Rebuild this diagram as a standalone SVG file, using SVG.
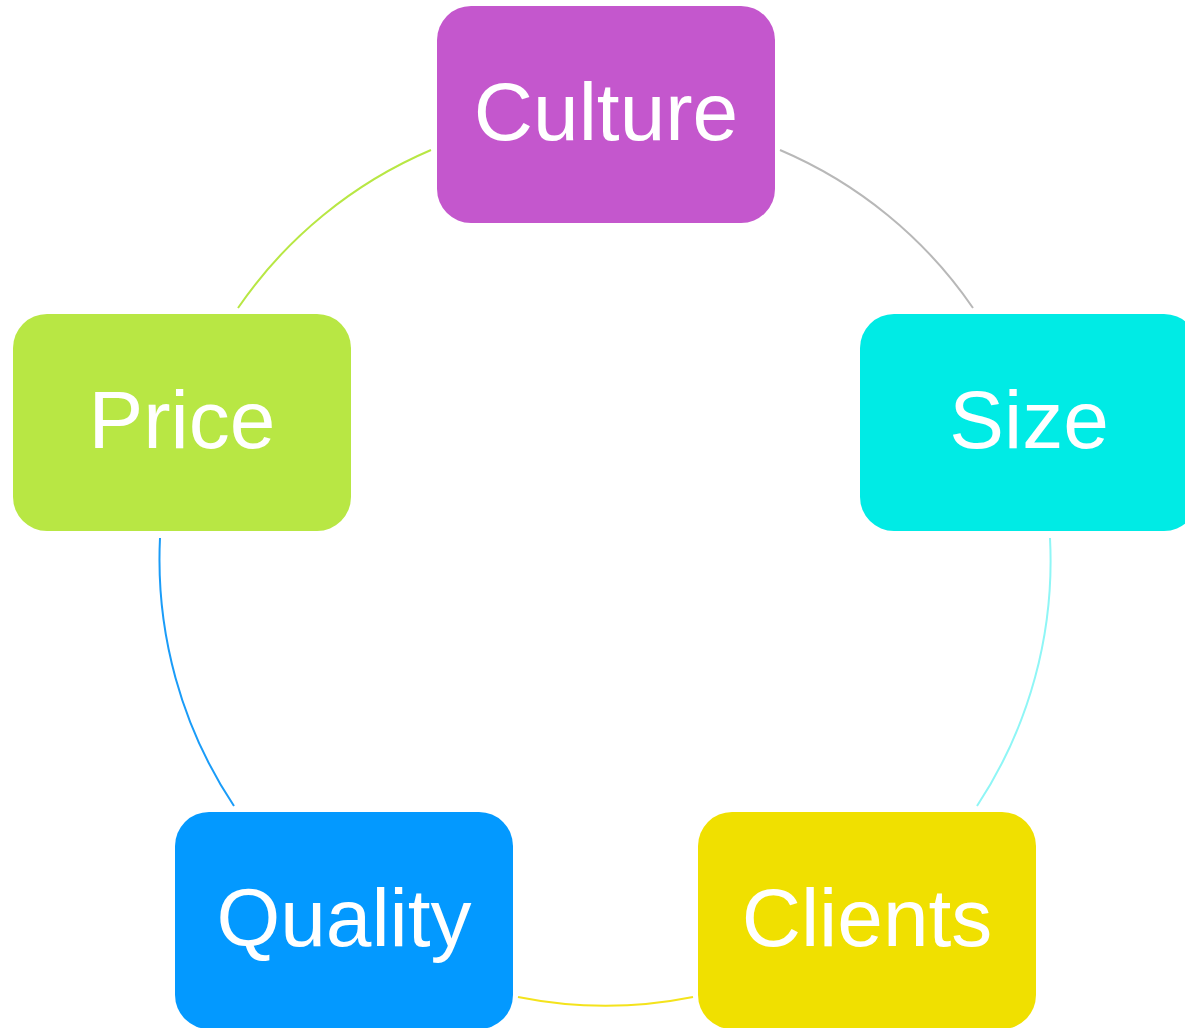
<svg xmlns="http://www.w3.org/2000/svg" width="1185" height="1028" viewBox="0 0 1185 1028">
  <style>
    .box { stroke: none; }
    .label { font-family: "Liberation Sans", Arial, sans-serif; font-size: 82px; fill: #ffffff; text-anchor: middle; }
    .arc { fill: none; stroke-width: 2; }
  </style>
  <rect width="1185" height="1028" fill="#ffffff"/>

  <!-- arcs along a circle centred at (606,560), r = 445 -->
  <g id="connectors">
    <path class="arc" stroke="#b8b8b8" d="M780,150 A445,445 0 0 1 973,308"/>
    <path class="arc" stroke="#8ff6f6" d="M1050,538 A445,445 0 0 1 977,806"/>
    <path class="arc" stroke="#f4e31c" d="M693,997 A445,445 0 0 1 518,997"/>
    <path class="arc" stroke="#1a9cf8" d="M234,806 A445,445 0 0 1 160,538"/>
    <path class="arc" stroke="#b8e744" d="M238,308 A445,445 0 0 1 431,150"/>
  </g>

  <g id="culture">
    <rect class="box" x="437" y="6" width="338" height="217" rx="34" fill="#c457cd"/>
    <text class="label" x="606" y="140">Culture</text>
  </g>
  <g id="size">
    <rect class="box" x="860" y="314" width="338" height="217" rx="34" fill="#00ebe5"/>
    <text class="label" x="1029" y="448">Size</text>
  </g>
  <g id="clients">
    <rect class="box" x="698" y="812" width="338" height="217" rx="34" fill="#f0e000"/>
    <text class="label" x="867" y="946">Clients</text>
  </g>
  <g id="quality">
    <rect class="box" x="175" y="812" width="338" height="217" rx="34" fill="#0399ff"/>
    <text class="label" x="344" y="946">Quality</text>
  </g>
  <g id="price">
    <rect class="box" x="13" y="314" width="338" height="217" rx="34" fill="#b8e744"/>
    <text class="label" x="182" y="448">Price</text>
  </g>
</svg>
